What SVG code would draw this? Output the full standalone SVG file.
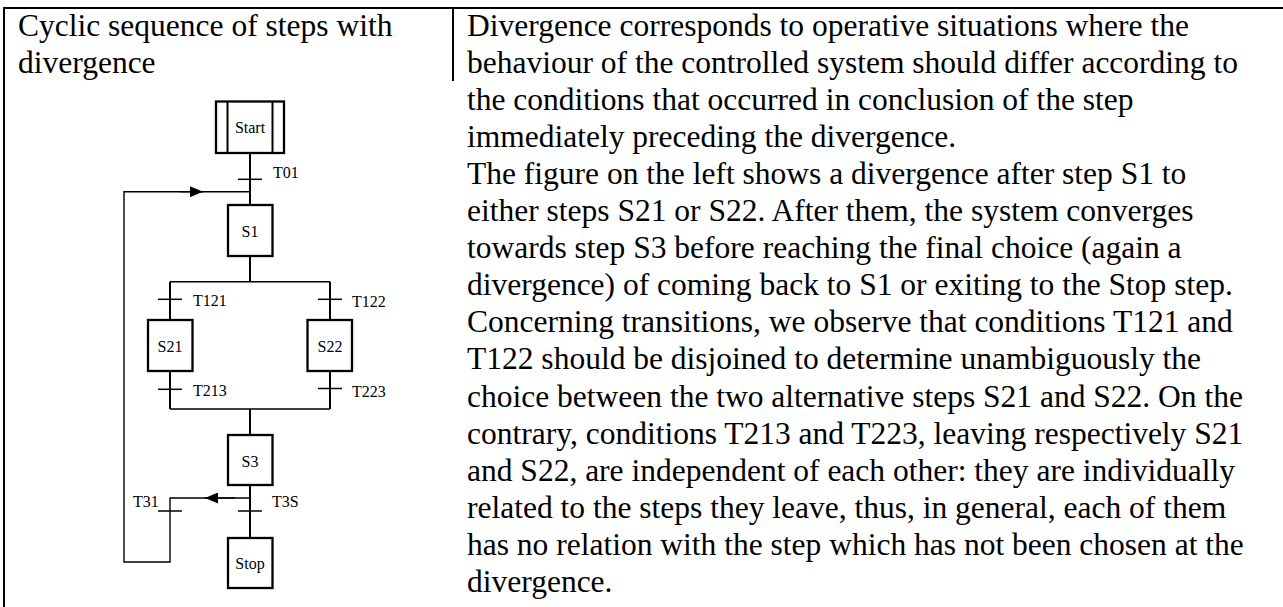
<svg xmlns="http://www.w3.org/2000/svg" width="1283" height="607" viewBox="0 0 1283 607">
  <style>
    .body { font-family: "Liberation Serif", "Times New Roman", serif; font-size: 31.5px; fill: #000; }
    .lbl { font-family: "Liberation Serif", "Times New Roman", serif; font-size: 16px; fill: #000; }
    .mid { text-anchor: middle; }
    .step { fill: #fff; stroke: #000; stroke-width: 2.3; }
    .grid { stroke: #000; stroke-width: 2; fill: none; }
    .link { stroke: #000; stroke-width: 2; fill: none; }
    .bar { stroke: #000; stroke-width: 1.4; fill: none; }
    .tick { stroke: #000; stroke-width: 1.5; fill: none; }
  </style>
  <defs>
    <marker id="arrow" markerUnits="userSpaceOnUse" markerWidth="13" markerHeight="11" viewBox="0 0 13 11" refX="13" refY="5.5" orient="auto">
      <path d="M0,0 L13,5.5 L0,11 z" fill="#000"/>
    </marker>
  </defs>

  <rect x="0" y="0" width="1283" height="607" fill="#fff"/>

  <!-- table rules -->
  <g id="table">
    <line class="grid" x1="3" y1="8" x2="1283" y2="8"/>
    <line class="grid" x1="4" y1="7" x2="4" y2="607"/>
    <line class="grid" x1="453" y1="7" x2="453" y2="81"/>
  </g>

  <!-- left column heading -->
  <text class="body" x="18" y="36">Cyclic sequence of steps with</text>
  <text class="body" x="18" y="73">divergence</text>

  <!-- right column description -->
  <text class="body">
    <tspan x="467" y="35.5">Divergence corresponds to operative situations where the</tspan>
    <tspan x="467" y="72.6">behaviour of the controlled system should differ according to</tspan>
    <tspan x="467" y="109.7">the conditions that occurred in conclusion of the step</tspan>
    <tspan x="467" y="146.8">immediately preceding the divergence.</tspan>
    <tspan x="467" y="183.9">The figure on the left shows a divergence after step S1 to</tspan>
    <tspan x="467" y="221">either steps S21 or S22. After them, the system converges</tspan>
    <tspan x="467" y="258.1">towards step S3 before reaching the final choice (again a</tspan>
    <tspan x="467" y="295.2">divergence) of coming back to S1 or exiting to the Stop step.</tspan>
    <tspan x="467" y="332.3">Concerning transitions, we observe that conditions T121 and</tspan>
    <tspan x="467" y="369.4">T122 should be disjoined to determine unambiguously the</tspan>
    <tspan x="467" y="406.5">choice between the two alternative steps S21 and S22. On the</tspan>
    <tspan x="467" y="443.6">contrary, conditions T213 and T223, leaving respectively S21</tspan>
    <tspan x="467" y="480.7">and S22, are independent of each other: they are individually</tspan>
    <tspan x="467" y="517.8">related to the steps they leave, thus, in general, each of them</tspan>
    <tspan x="467" y="554.9">has no relation with the step which has not been chosen at the</tspan>
    <tspan x="467" y="592">divergence.</tspan>
  </text>

  <!-- connectors: links, transitions, divergence/convergence bars, loop -->
  <g id="connectors">
    <line class="link" x1="250" y1="153" x2="250" y2="205"/>
    <line class="tick" x1="238" y1="179.3" x2="262" y2="179.3"/>

    <path class="bar" d="M250,498 H170 V562 H124 V191.7 H250"/>
    <line class="bar" x1="180" y1="191.7" x2="203" y2="191.7" marker-end="url(#arrow)"/>
    <line class="bar" x1="235" y1="498" x2="205" y2="498" marker-end="url(#arrow)"/>

    <line class="link" x1="250" y1="256" x2="250" y2="281.7"/>
    <line class="bar" x1="170" y1="281.7" x2="330" y2="281.7"/>

    <line class="link" x1="170" y1="281.7" x2="170" y2="320"/>
    <line class="tick" x1="158" y1="299.3" x2="182" y2="299.3"/>
    <line class="link" x1="170" y1="371" x2="170" y2="409"/>
    <line class="tick" x1="158" y1="389.3" x2="182" y2="389.3"/>

    <line class="link" x1="330" y1="281.7" x2="330" y2="320"/>
    <line class="tick" x1="318" y1="299.3" x2="342" y2="299.3"/>
    <line class="link" x1="330" y1="371" x2="330" y2="409"/>
    <line class="tick" x1="318" y1="388.5" x2="342" y2="388.5"/>

    <line class="bar" x1="170" y1="409" x2="330" y2="409"/>
    <line class="link" x1="250" y1="409" x2="250" y2="435"/>

    <line class="link" x1="250" y1="485" x2="250" y2="538"/>
    <line class="tick" x1="238" y1="511" x2="262" y2="511"/>
    <line class="tick" x1="158" y1="511" x2="182" y2="511"/>
  </g>

  <!-- transition labels -->
  <g id="transition-labels">
    <text class="lbl" x="273" y="178">T01</text>
    <text class="lbl" x="193" y="305.5">T121</text>
    <text class="lbl" x="352" y="307">T122</text>
    <text class="lbl" x="193" y="396">T213</text>
    <text class="lbl" x="352" y="397">T223</text>
    <text class="lbl" x="272" y="507">T3S</text>
    <text class="lbl" x="133" y="507">T31</text>
  </g>

  <!-- steps -->
  <g id="step-start">
    <rect class="step" x="216" y="101.5" width="68" height="51.5"/>
    <line class="link" x1="227.5" y1="101.5" x2="227.5" y2="153"/>
    <line class="link" x1="272.5" y1="101.5" x2="272.5" y2="153"/>
    <text class="lbl mid" x="250" y="133">Start</text>
  </g>
  <g id="step-s1">
    <rect class="step" x="228" y="205" width="44.5" height="51"/>
    <text class="lbl mid" x="250" y="236.5">S1</text>
  </g>
  <g id="step-s21">
    <rect class="step" x="148" y="320" width="44.5" height="51"/>
    <text class="lbl mid" x="170" y="351.5">S21</text>
  </g>
  <g id="step-s22">
    <rect class="step" x="307.5" y="320" width="44.5" height="51"/>
    <text class="lbl mid" x="330" y="351.5">S22</text>
  </g>
  <g id="step-s3">
    <rect class="step" x="228" y="435" width="44.5" height="50"/>
    <text class="lbl mid" x="250" y="466.5">S3</text>
  </g>
  <g id="step-stop">
    <rect class="step" x="228" y="538" width="44.5" height="50"/>
    <text class="lbl mid" x="250" y="568.5">Stop</text>
  </g>
</svg>
